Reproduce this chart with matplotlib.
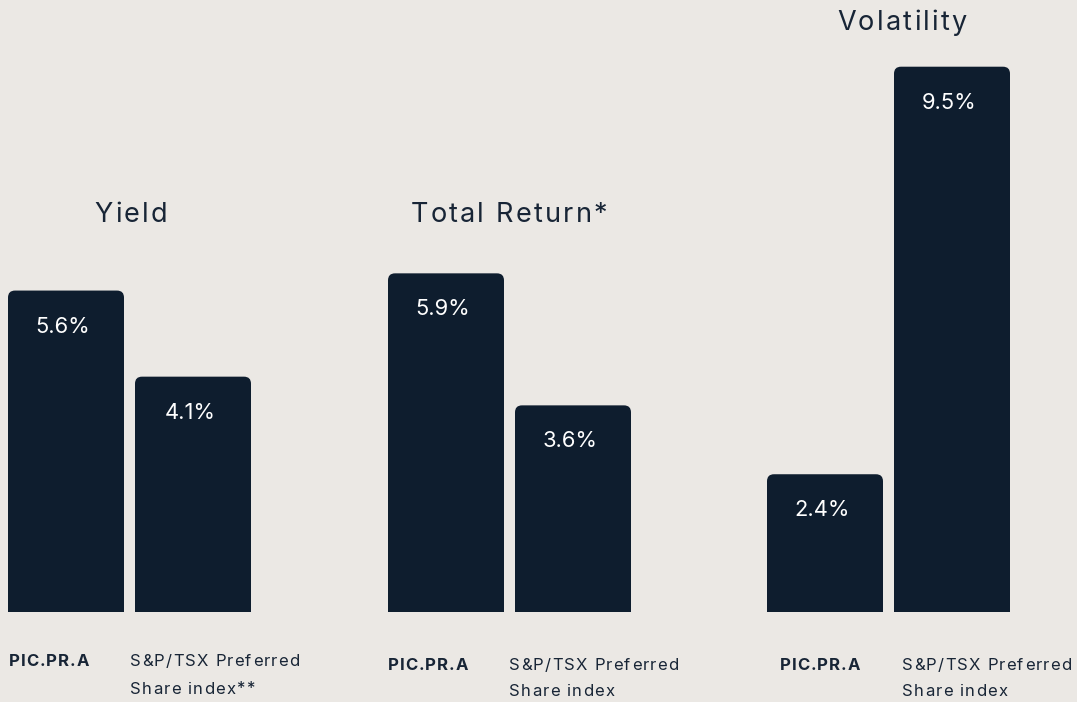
import numpy as np
import matplotlib.pyplot as plt
from matplotlib.patches import FancyBboxPatch, Rectangle
from matplotlib.font_manager import FontProperties

# Chart data
groups = ['Yield', 'Total Return*', 'Volatility']
pic_values = [5.6, 5.9, 2.4]
index_values = [4.1, 3.6, 9.5]
series_labels = ['PIC.PR.A', 'S&P/TSX Preferred\nShare index']
index_footnotes = ['**', '', '']

# Layout (pixel-like units on a 1077 x 702 canvas)
W, H = 1077, 702
BASE_PX = 612          # baseline from top
PX_PER_UNIT = 57.4     # vertical pixels per percentage point
group_left = [8, 388, 767]
bar_w = 116
bar_gap = 11
title_y_px = [215, 215, 23]
title_x_off = [123, 121, 135]
label_y_px = [[662, 689], [665, 692], [665, 692]]
label_x_off = [[1, 122], [0, 121], [13, 135]]

bg = '#ebe8e4'
bar_color = '#0e1d2e'
text_color = '#182536'

plt.rcParams['font.family'] = ['Inter', 'DejaVu Sans']

fig = plt.figure(figsize=(W / 100, H / 100), dpi=100, facecolor=bg)
ax = fig.add_axes([0, 0, 1, 1])
ax.set_facecolor(bg)
ax.set_xlim(0, W)
ax.set_ylim(-(H - BASE_PX) / PX_PER_UNIT, BASE_PX / PX_PER_UNIT)
ax.axis('off')
renderer = fig.canvas.get_renderer()


def py(px):
    # pixel row from top -> data y
    return (BASE_PX - px) / PX_PER_UNIT


def text_w(s, fp):
    w, _, _ = renderer.get_text_width_height_descent(s, fp, ismath=False)
    return w


def tracked_text(x, y, s, size, track, ha='left', weight='normal', color=text_color):
    # draw text with extra letter spacing (x units are pixels)
    fp = FontProperties(family=['Inter', 'DejaVu Sans'], size=size, weight=weight)
    bar_w_ref = text_w('|', fp)
    offs = [text_w(s[:k] + '|', fp) - bar_w_ref if k else 0 for k in range(len(s))]
    offs = [o + k * track for k, o in enumerate(offs)]
    total = text_w(s, fp) + (len(s) - 1) * track
    if ha == 'center':
        x = x - total / 2
    for ch, o in zip(s, offs):
        if ch == ' ':
            continue
        ax.text(x + o, y, ch, fontproperties=fp, color=color, ha='left', va='center')


def rounded_bar(x, h, r=7):
    aspect = 1 / PX_PER_UNIT
    top = FancyBboxPatch((x, 0), bar_w, h,
                         boxstyle=f'round,pad=0,rounding_size={r}',
                         mutation_aspect=aspect, fc=bar_color, ec='none', zorder=3)
    ax.add_patch(top)
    ax.add_patch(Rectangle((x, 0), bar_w, h / 2, fc=bar_color, ec='none', zorder=3))


for i, g in enumerate(groups):
    x0 = group_left[i]
    xs = [x0, x0 + bar_w + bar_gap]
    vals = [pic_values[i], index_values[i]]
    for x, v in zip(xs, vals):
        rounded_bar(x, v)
        ax.text(x + bar_w / 2 - 3, v - 36 / PX_PER_UNIT, f'{v}%', color='white',
                fontsize=15.8, ha='center', va='center', zorder=4)

    tracked_text(x0 + title_x_off[i], py(title_y_px[i]), g, 19.5, 2.2, ha='center')

    tracked_text(x0 + label_x_off[i][0], py(label_y_px[i][0]), series_labels[0],
                 12, 0.9, weight='bold')
    idx_lines = (series_labels[1] + index_footnotes[i]).split('\n')
    for k, line in enumerate(idx_lines):
        tracked_text(x0 + label_x_off[i][1], py(label_y_px[i][k]), line, 12, 1.2)

fig.savefig('out.png', dpi=100, facecolor=bg)
